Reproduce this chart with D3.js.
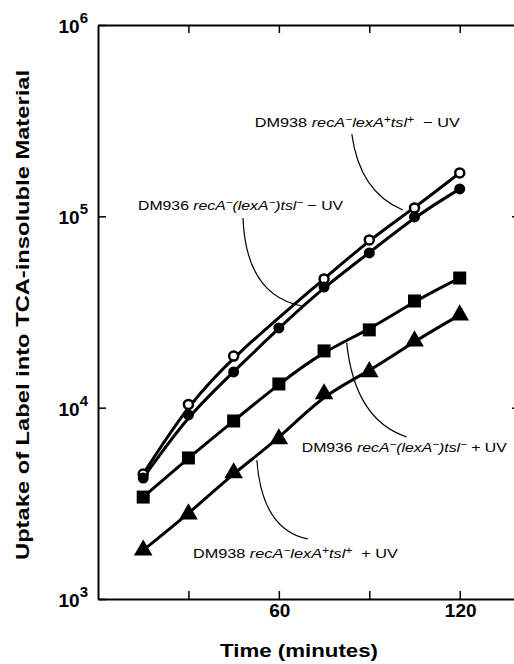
<!DOCTYPE html>
<html>
<head>
<meta charset="utf-8">
<script src="https://cdn.jsdelivr.net/npm/d3@7"></script>
<style>
  body { margin: 0; background: #fff; }
  svg { display: block; }
</style>
</head>
<body>
<div id="chart"></div>
<script>
// time points (minutes)
var times = [15, 30, 45, 60, 75, 90, 105, 120];

// uptake values (null = no point drawn)
var dm938MinusUV = [4500, 10400, 18600, null, 47100, 75300, 110700, 168600]; // open circles
var dm936MinusUV = [4290, 9160, 15380, 26100, 42700, 64400, 99300, 139000];  // filled circles
var dm936PlusUV  = [3410, 5460, 8520, 13300, 19800, 25500, 36100, 47600];    // squares
var dm938PlusUV  = [1800, 2780, 4560, 6860, 11800, 15400, 22300, 30500];     // triangles

var xTicks = [30, 60, 90, 120];
var xTickLabels = [60, 120];
var yTicks = [1e3, 1e4, 1e5, 1e6];
var sideTicks = [1e4, 1e5];

// curve labels: strain, genotype (^ marks a superscript), condition
var labelStrains = ['DM938', 'DM936', 'DM936', 'DM938'];
var labelGenotypes = ['recA^−lexA^+tsl^+', 'recA^−(lexA^−)tsl^−', 'recA^−(lexA^−)tsl^−', 'recA^−lexA^+tsl^+'];
var labelTails = ['  − UV', ' − UV', ' + UV', '  + UV'];
// label anchor (time, uptake) and leader curve (start, control, end)
var labelAt = [[52.0, 293000], [13.3, 108000], [67.6, 5860], [31.5, 1640]];
var leaders = [
  [[84.2, 269000], [86.8, 134000], [101.1, 108000]],
  [[48.1, 98000], [49.1, 38800], [67.6, 34000]],
  [[82.5, 21800], [85.2, 8630], [102.4, 7030]],
  [[52.7, 5320], [54.4, 2300], [69.6, 2060]]
];

var width = 514, height = 664;
var svg = d3.select('#chart').append('svg')
  .attr('width', width)
  .attr('height', height)
  .style('background', '#fff');

var x = d3.scaleLinear().domain([0, 140]).range([98, 520]);
var y = d3.scaleLog().domain([1e3, 1e6]).range([599, 25]);

var ink = '#000';

// frame + inward ticks
var axes = svg.append('g').attr('class', 'axes');
axes.append('g').attr('transform', 'translate(0,' + y(1e3) + ')')
  .call(d3.axisBottom(x).tickValues(xTicks).tickSize(-8).tickSizeOuter(0).tickFormat(''));
axes.append('g').attr('transform', 'translate(0,' + y(1e6) + ')')
  .call(d3.axisTop(x).tickValues(xTicks).tickSize(-8).tickSizeOuter(0).tickFormat(''));
axes.append('g').attr('transform', 'translate(' + x(0) + ',0)')
  .call(d3.axisLeft(y).tickValues(yTicks).tickSize(-8).tickSizeOuter(0).tickFormat(''));
axes.append('g').attr('transform', 'translate(' + x(140) + ',0)')
  .call(d3.axisRight(y).tickValues(sideTicks).tickSize(-8).tickSizeOuter(0).tickFormat(''));
axes.selectAll('path.domain').attr('stroke', ink).attr('stroke-width', 2);
axes.selectAll('.tick line').attr('stroke', ink).attr('stroke-width', 1.5);

// y tick labels 10^n
var yl = svg.append('g');
yTicks.forEach(function(v) {
  var t = yl.append('text')
    .attr('x', 88).attr('y', y(v) + 8)
    .attr('text-anchor', 'end')
    .attr('font-family', 'Liberation Sans, Arial, sans-serif')
    .attr('font-weight', 'bold')
    .attr('font-size', 19);
  t.append('tspan').text('10');
  t.append('tspan').attr('font-size', 15).attr('dy', -10).text(Math.round(Math.log10(v)));
});

// x tick labels
svg.append('g').selectAll('text')
  .data(xTickLabels)
  .enter().append('text')
  .attr('x', function(d) { return x(d) + 1; })
  .attr('y', 617)
  .attr('text-anchor', 'middle')
  .attr('font-family', 'Liberation Sans, Arial, sans-serif')
  .attr('font-weight', 'bold')
  .attr('font-size', 19)
  .text(Object);

// axis titles
svg.append('text')
  .attr('x', 299).attr('y', 657)
  .attr('text-anchor', 'middle')
  .attr('font-family', 'Liberation Sans, Arial, sans-serif')
  .attr('font-weight', 'bold')
  .attr('font-size', 18)
  .attr('textLength', 158).attr('lengthAdjust', 'spacingAndGlyphs')
  .text('Time (minutes)');

svg.append('text')
  .attr('transform', 'translate(29,315) rotate(-90)')
  .attr('text-anchor', 'middle')
  .attr('font-family', 'Liberation Sans, Arial, sans-serif')
  .attr('font-weight', 'bold')
  .attr('font-size', 18)
  .attr('textLength', 490).attr('lengthAdjust', 'spacingAndGlyphs')
  .text('Uptake of Label into TCA-insoluble Material');

// curves
function pairs(vals) {
  return times.map(function(t, i) { return [t, vals[i]]; })
    .filter(function(d) { return d[1] != null; });
}
var line = d3.line()
  .x(function(d) { return x(d[0]); })
  .y(function(d) { return y(d[1]); })
  .curve(d3.curveBasis);

var series = [dm938MinusUV, dm936MinusUV, dm936PlusUV, dm938PlusUV];
var curves = svg.append('g');
series.forEach(function(vals) {
  curves.append('path')
    .attr('d', line(pairs(vals)))
    .attr('fill', 'none')
    .attr('stroke', ink)
    .attr('stroke-width', 3);
});

// markers
var marks = svg.append('g');
marks.selectAll('circle.open')
  .data(pairs(dm938MinusUV))
  .enter().append('circle')
  .attr('cx', function(d) { return x(d[0]); })
  .attr('cy', function(d) { return y(d[1]); })
  .attr('r', 4.5)
  .attr('fill', '#fff')
  .attr('stroke', ink)
  .attr('stroke-width', 2.5);

marks.selectAll('circle.filled')
  .data(pairs(dm936MinusUV))
  .enter().append('circle')
  .attr('cx', function(d) { return x(d[0]); })
  .attr('cy', function(d) { return y(d[1]); })
  .attr('r', 5.5)
  .attr('fill', ink);

marks.selectAll('rect')
  .data(pairs(dm936PlusUV))
  .enter().append('rect')
  .attr('x', function(d) { return x(d[0]) - 6.5; })
  .attr('y', function(d) { return y(d[1]) - 6.5; })
  .attr('width', 13).attr('height', 13)
  .attr('fill', ink);

var tri = d3.symbol().type(d3.symbolTriangle).size(150);
marks.selectAll('path.tri')
  .data(pairs(dm938PlusUV))
  .enter().append('path')
  .attr('transform', function(d) { return 'translate(' + x(d[0]) + ',' + y(d[1]) + ')'; })
  .attr('d', tri)
  .attr('fill', ink);

// labels
var lab = svg.append('g');
labelStrains.forEach(function(strain, i) {
  var t = lab.append('text')
    .attr('x', x(labelAt[i][0]))
    .attr('y', y(labelAt[i][1]))
    .attr('font-family', 'Liberation Sans, Arial, sans-serif')
    .attr('font-size', 13.5)
    .attr('textLength', 205).attr('lengthAdjust', 'spacingAndGlyphs')
    .attr('xml:space', 'preserve')
    .style('white-space', 'pre');
  t.append('tspan').text(strain + ' ');
  var bits = labelGenotypes[i].split('^');
  bits.forEach(function(b, k) {
    var txt = b;
    if (k > 0) {
      t.append('tspan').attr('font-style', 'italic').attr('font-size', 10)
        .attr('baseline-shift', '45%').text(b.charAt(0));
      txt = b.slice(1);
    }
    if (txt.length) t.append('tspan').attr('font-style', 'italic').text(txt);
  });
  t.append('tspan').text(labelTails[i]);
});

var leader = d3.line()
  .x(function(d) { return x(d[0]); })
  .y(function(d) { return y(d[1]); })
  .curve(d3.curveNatural);
leaders.forEach(function(pts) {
  var p0 = [x(pts[0][0]), y(pts[0][1])],
      c = [x(pts[1][0]), y(pts[1][1])],
      p1 = [x(pts[2][0]), y(pts[2][1])];
  lab.append('path')
    .attr('d', 'M' + p0 + 'Q' + c + ' ' + p1)
    .attr('fill', 'none')
    .attr('stroke', ink)
    .attr('stroke-width', 1.2);
});
</script>
</body>
</html>
